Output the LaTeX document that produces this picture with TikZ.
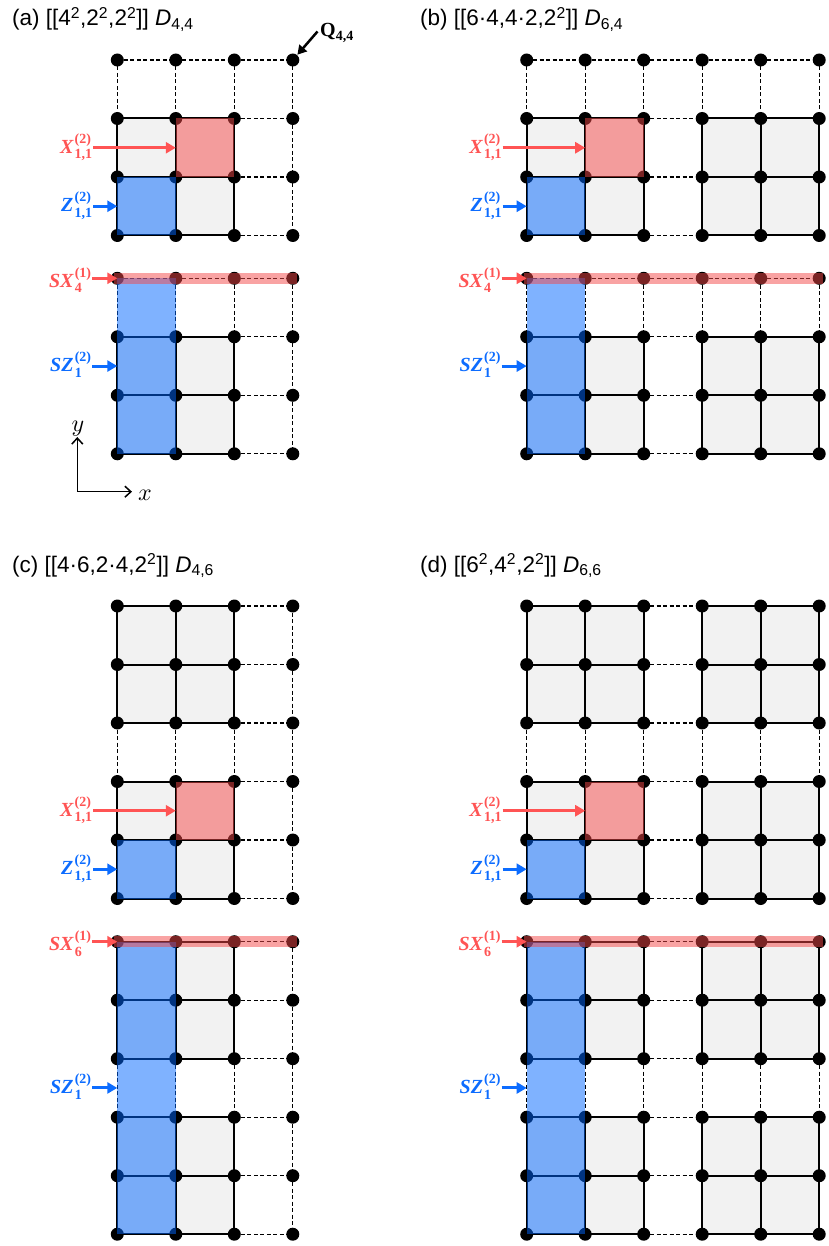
\documentclass[tikz,border=0pt]{standalone}
\usepackage{amsmath}
\usepackage{graphicx}
\usepackage{fontspec}
\setmainfont{Liberation Sans}
\newfontfamily\labser{Liberation Serif}
\usetikzlibrary{arrows.meta,calc}
\definecolor{cellgray}{RGB}{242,242,242}
\definecolor{redc}{RGB}{244,72,72}
\definecolor{redl}{RGB}{255,84,84}
\definecolor{bluec}{RGB}{0,102,255}
\definecolor{bluel}{RGB}{12,108,255}
\newcommand\qlab[3]{\scalebox{2}{\fontsize{10}{12}\selectfont$\text{\labser\bfseries\itshape #1\kern0.6pt}^{\text{\labser\bfseries #2}}_{\text{\labser\bfseries #3}}$}}
\newcommand\labmath[2]{\scalebox{#1}{\fontsize{10}{12}\selectfont$#2$}}
\tikzset{
  vdot/.style={circle,fill=black,inner sep=0pt,minimum size=13pt},
  solidedge/.style={line width=2pt,black},
  dashedge/.style={line width=1.3pt,black,dash pattern=on 4pt off 2.5pt},
  graycell/.style={fill=cellgray},
  redpatch/.style={fill=redc,fill opacity=0.5},
  bluepatch/.style={fill=bluec,fill opacity=0.5},
  redarrow/.style={draw=redl,line width=3pt,-{Triangle[length=10pt,width=11pt]}},
  bluearrow/.style={draw=bluel,line width=3pt,-{Triangle[length=10pt,width=11pt]}},
  qarrow/.style={draw=black,line width=2.5pt,-{Triangle[length=9pt,width=10pt]},shorten >=7pt},
  lab/.style={anchor=base east,inner sep=0pt},
  redlab/.style={lab,text=redl},
  bluelab/.style={lab,text=bluel},
  ttl/.style={anchor=base west,inner sep=0pt,font=\fontsize{22.5}{26}\selectfont},
  axis/.style={line width=1.5pt,-{Straight Barb[length=6pt,width=11pt]}},
  axlab/.style={inner sep=0pt},
}
% #1 prefix, #2 x0, #3 y0, #4 vertex cols, #5 vertex rows, #6 gap cell row
\newcommand\qgrid[6]{%
  \pgfmathtruncatemacro\gVc{#4-1}\pgfmathtruncatemacro\gVr{#5-1}%
  \pgfmathtruncatemacro\gNc{#4-2}\pgfmathtruncatemacro\gNr{#5-2}%
  \foreach \i in {0,...,\gVc}{\foreach \j in {0,...,\gVr}{%
    \coordinate (#1-\i-\j) at ({#2+58.5*\i},{#3+58.5*\j});}}%
  \foreach \i in {0,...,\gNc}{\foreach \j in {0,...,\gNr}{%
    \pgfmathtruncatemacro\ok{(\i!=2)&&(\j!=#6)}%
    \pgfmathtruncatemacro\ii{\i+1}\pgfmathtruncatemacro\jj{\j+1}%
    \ifnum\ok=1 \fill[graycell] (#1-\i-\j) rectangle (#1-\ii-\jj);\fi}}%
  \foreach \j in {0,...,\gVr}{\foreach \i in {0,...,\gNc}{%
    \pgfmathtruncatemacro\ii{\i+1}%
    \pgfmathtruncatemacro\ok{(\i!=2)&&(((\j>0)&&((\j-1)!=#6))||((\j<\gVr)&&(\j!=#6)))}%
    \ifnum\ok=1 \draw[solidedge] (#1-\i-\j) -- (#1-\ii-\j);\else\draw[dashedge] (#1-\i-\j) -- (#1-\ii-\j);\fi}}%
  \foreach \i in {0,...,\gVc}{\foreach \j in {0,...,\gNr}{%
    \pgfmathtruncatemacro\jj{\j+1}%
    \pgfmathtruncatemacro\ok{(\j!=#6)&&(((\i>0)&&((\i-1)!=2))||((\i<\gVc)&&(\i!=2)))}%
    \ifnum\ok=1 \draw[solidedge] (#1-\i-\j) -- (#1-\i-\jj);\else\draw[dashedge] (#1-\i-\j) -- (#1-\i-\jj);\fi}}%
  \foreach \i in {0,...,\gVc}{\foreach \j in {0,...,\gVr}{%
    \node[vdot] (#1-d-\i-\j) at (#1-\i-\j) {};}}%
}
% #1 prefix, #2 x0, #3 ytop, #4 ybot, #5 nx, #6 ny, #7 gap row, #8 SX subscript, #9 SZ cell row
\newcommand\qpanel[9]{%
  \qgrid{#1T}{#2}{#3}{#5}{#6}{#7}%
  \qgrid{#1B}{#2}{#4}{#5}{#6}{#7}%
  \pgfmathtruncatemacro\qRr{#6-3}%
  \pgfmathtruncatemacro\qRb{#6-2}%
  \pgfmathtruncatemacro\qRl{#6-1}%
  \pgfmathtruncatemacro\qCl{#5-1}%
  \pgfmathtruncatemacro\qSz{#9+1}%
  \fill[bluepatch] (#1T-0-\qRb) rectangle (#1T-1-\qRl);
  \fill[redpatch] (#1T-1-\qRr) rectangle (#1T-2-\qRb);
  \fill[bluepatch] (#1B-0-0) rectangle (#1B-1-\qRl);
  \fill[redpatch] ([xshift=-3pt,yshift=5.5pt]#1B-0-0) rectangle ([xshift=4pt,yshift=-5.5pt]#1B-\qCl-0);
  \coordinate (#1Xt) at ($(#1T-1-\qRr)!0.5!(#1T-1-\qRb)$);
  \coordinate (#1Zt) at ($(#1T-0-\qRb)!0.5!(#1T-0-\qRl)$);
  \coordinate (#1SXt) at (#1B-0-0);
  \coordinate (#1SZt) at ($(#1B-0-#9)!0.5!(#1B-0-\qSz)$);
  \path (#1Xt -| #1T-0-0) ++(-24,5.5) node[redlab] (#1Xl) {\qlab{X}{(2)}{1,1}};
  \path (#1Zt -| #1T-0-0) ++(-24,5.5) node[bluelab] (#1Zl) {\qlab{Z}{(2)}{1,1}};
  \path (#1SXt) ++(-25,9) node[redlab] (#1SXl) {\qlab{SX}{(1)}{#8}};
  \path (#1SZt) ++(-25,5.5) node[bluelab] (#1SZl) {\qlab{SZ}{(2)}{1}};
  \draw[redarrow] (#1Xt -| #1Xl.east) -- (#1Xt);
  \draw[bluearrow] (#1Zt -| #1Zl.east) -- (#1Zt);
  \draw[redarrow] (#1SXt -| #1SXl.east) -- (#1SXt);
  \draw[bluearrow] (#1SZt -| #1SZl.east) -- (#1SZt);
}
\begin{document}
\begin{tikzpicture}[x=1pt,y=-1pt]
\useasboundingbox (0,0) rectangle (828,1246);
\fill[white] (0,0) rectangle (828,1246);
% titles
\node[ttl] (ta) at (12,26) {(a) [[4\textsuperscript{2},2\textsuperscript{2},2\textsuperscript{2}]] \textit{D}\textsubscript{4,4}};
\node[ttl] (tb) at (420,26) {(b) [[6·4,4·2,2\textsuperscript{2}]] \textit{D}\textsubscript{6,4}};
\node[ttl] (tc) at (12,572) {(c) [[4·6,2·4,2\textsuperscript{2}]] \textit{D}\textsubscript{4,6}};
\node[ttl] (td) at (420,572) {(d) [[6\textsuperscript{2},4\textsuperscript{2},2\textsuperscript{2}]] \textit{D}\textsubscript{6,6}};
% panels
\qpanel{a}{117.3}{60}{278.3}{4}{4}{0}{4}{1}
\qpanel{b}{526.7}{60}{278.3}{6}{4}{0}{4}{1}
\qpanel{c}{117.3}{606}{941.7}{4}{6}{2}{6}{2}
\qpanel{d}{526.7}{606}{941.7}{6}{6}{2}{6}{2}
% Q label
\node[anchor=base west,inner sep=0pt] (Qlab) at (320,36.5) {\scalebox{2}{\fontsize{10}{12}\selectfont$\text{\labser\bfseries Q}_{\text{\labser\bfseries 4,4}}$}};
\coordinate (Qtail) at (317.5,31.5);
\draw[qarrow] (Qtail) -- (aT-3-0);
% axes
\coordinate (ax0) at (77.3,491.7);
\coordinate (axy) at (77.3,437);
\coordinate (axx) at (132,491.7);
\draw[axis] (ax0) -- (axy);
\draw[axis] (ax0) -- (axx);
\node[axlab] (ylab) at (78,429) {\labmath{2.4}{y}};
\node[axlab] (xlab) at (145,495) {\labmath{2.4}{x}};
\end{tikzpicture}
\end{document}
